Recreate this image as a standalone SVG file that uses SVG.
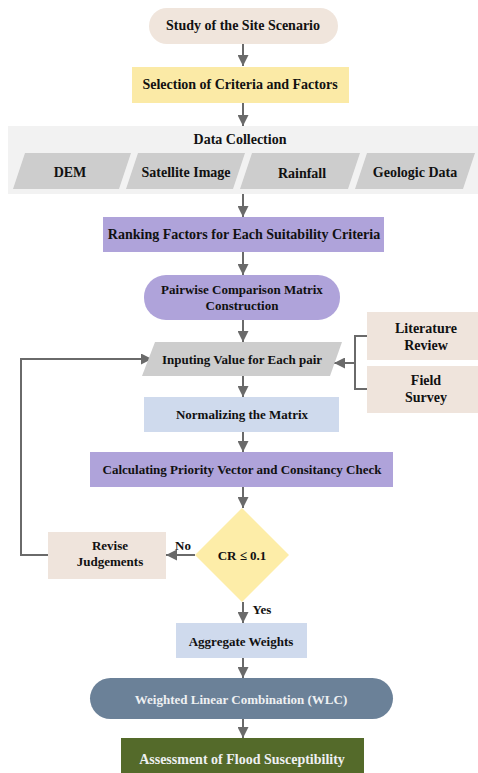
<svg xmlns="http://www.w3.org/2000/svg" width="478" height="773" viewBox="0 0 478 773">
<defs>
<marker id="ah" viewBox="0 0 10 10" refX="10" refY="5" markerWidth="5.5" markerHeight="5.5" markerUnits="strokeWidth" orient="auto">
<path d="M0,0 L10,5 L0,10 z" fill="#6a6a6a"/>
</marker>
<style>
text{font-family:"Liberation Serif","Times New Roman",serif;font-weight:bold;font-size:13px;fill:#111111;text-anchor:middle;dominant-baseline:central}
.l{font-size:14px}
.c{fill:none;stroke:#6a6a6a;stroke-width:2}
.a{marker-end:url(#ah)}
.w{fill:#eef0f2}
</style>
</defs>
<rect width="478" height="773" fill="#ffffff"/>
<g id="connectors">
<line class="c a" x1="243" y1="44" x2="243" y2="66"/>
<line class="c a" x1="243" y1="103" x2="243" y2="126"/>
<line class="c a" x1="243" y1="194" x2="243" y2="217"/>
<line class="c a" x1="243" y1="252" x2="243" y2="275"/>
<line class="c a" x1="243" y1="320" x2="243" y2="342"/>
<line class="c a" x1="243" y1="376" x2="243" y2="397"/>
<line class="c a" x1="243" y1="432" x2="243" y2="452"/>
<line class="c a" x1="243" y1="487" x2="243" y2="508"/>
<line class="c a" x1="243" y1="602" x2="243" y2="623"/>
<line class="c a" x1="243" y1="658" x2="243" y2="678"/>
<line class="c a" x1="243" y1="719" x2="243" y2="738"/>
<polyline class="c" points="367,336 355,336 355,389 367,389"/>
<line class="c a" x1="355" y1="363" x2="334" y2="363"/>
<line class="c a" x1="195" y1="555" x2="166" y2="555"/>
<polyline class="c a" points="48,555 21,555 21,359 152,359"/>
<text x="183" y="545">No</text>
<text x="262" y="609">Yes</text>
</g>
<g id="study">
<rect x="149" y="8" width="189" height="36" rx="18" fill="#f0e5dc"/>
<text class="l" x="243" y="25">Study of the Site Scenario</text>
</g>
<g id="selection">
<rect x="132" y="67" width="217" height="36" fill="#fbeaa6"/>
<text class="l" x="240" y="84">Selection of Criteria and Factors</text>
</g>
<g id="data-collection">
<rect x="8" y="126" width="470" height="68" fill="#f2f2f2"/>
<text class="l" x="240" y="139">Data Collection</text>
<g id="dem">
<polygon points="25,153 131,153 119,189 13,189" fill="#cdcdcd"/>
<text class="l" x="70" y="172">DEM</text>
</g>
<g id="satellite">
<polygon points="138,153 245,153 233,189 126,189" fill="#cdcdcd"/>
<text class="l" x="186" y="172">Satellite Image</text>
</g>
<g id="rainfall">
<polygon points="252,153 360,153 348,189 240,189" fill="#cdcdcd"/>
<text class="l" x="302" y="173">Rainfall</text>
</g>
<g id="geologic">
<polygon points="367,153 475,153 463,189 355,189" fill="#cdcdcd"/>
<text class="l" x="415" y="172">Geologic Data</text>
</g>
</g>
<g id="ranking">
<rect x="103" y="217" width="281" height="35" fill="#afa3da"/>
<text class="l" x="244" y="234">Ranking Factors for Each Suitability Criteria</text>
</g>
<g id="pairwise">
<rect x="144" y="275" width="196" height="45" rx="22" fill="#afa3da"/>
<text x="242" y="289">Pairwise Comparison Matrix</text>
<text x="242" y="305">Construction</text>
</g>
<g id="inputing">
<polygon points="155,342 342,342 330,376 142,376" fill="#cdcdcd"/>
<text x="242" y="359">Inputing Value for Each pair</text>
</g>
<g id="literature">
<rect x="367" y="312" width="111" height="48" fill="#efe4dc"/>
<text class="l" x="426" y="328">Literature</text>
<text class="l" x="426" y="345">Review</text>
</g>
<g id="field">
<rect x="367" y="366" width="111" height="47" fill="#efe4dc"/>
<text class="l" x="426" y="380">Field</text>
<text class="l" x="426" y="397">Survey</text>
</g>
<g id="normalizing">
<rect x="144" y="397" width="195" height="35" fill="#cfdaed"/>
<text x="242" y="414">Normalizing the Matrix</text>
</g>
<g id="calculating">
<rect x="90" y="452" width="303" height="35" fill="#afa3da"/>
<text x="242" y="469">Calculating Priority Vector and Consitancy Check</text>
</g>
<g id="decision">
<polygon points="242,508 289,555 242,602 195,555" fill="#fdeda8"/>
<text x="242" y="555">CR ≤ 0.1</text>
</g>
<g id="revise">
<rect x="48" y="532" width="118" height="47" fill="#efe4dc"/>
<text x="110" y="545">Revise</text>
<text x="110" y="561">Judgements</text>
</g>
<g id="aggregate">
<rect x="176" y="623" width="131" height="35" fill="#cfdaed"/>
<text x="241" y="641">Aggregate Weights</text>
</g>
<g id="wlc">
<rect x="90" y="678" width="303" height="41" rx="20.5" fill="#6b8198"/>
<text class="w" x="241" y="699">Weighted Linear Combination (WLC)</text>
</g>
<g id="assessment">
<rect x="121" y="738" width="243" height="38" fill="#546a2a"/>
<text class="w l" x="242" y="759">Assessment of Flood Susceptibility</text>
</g>
</svg>
